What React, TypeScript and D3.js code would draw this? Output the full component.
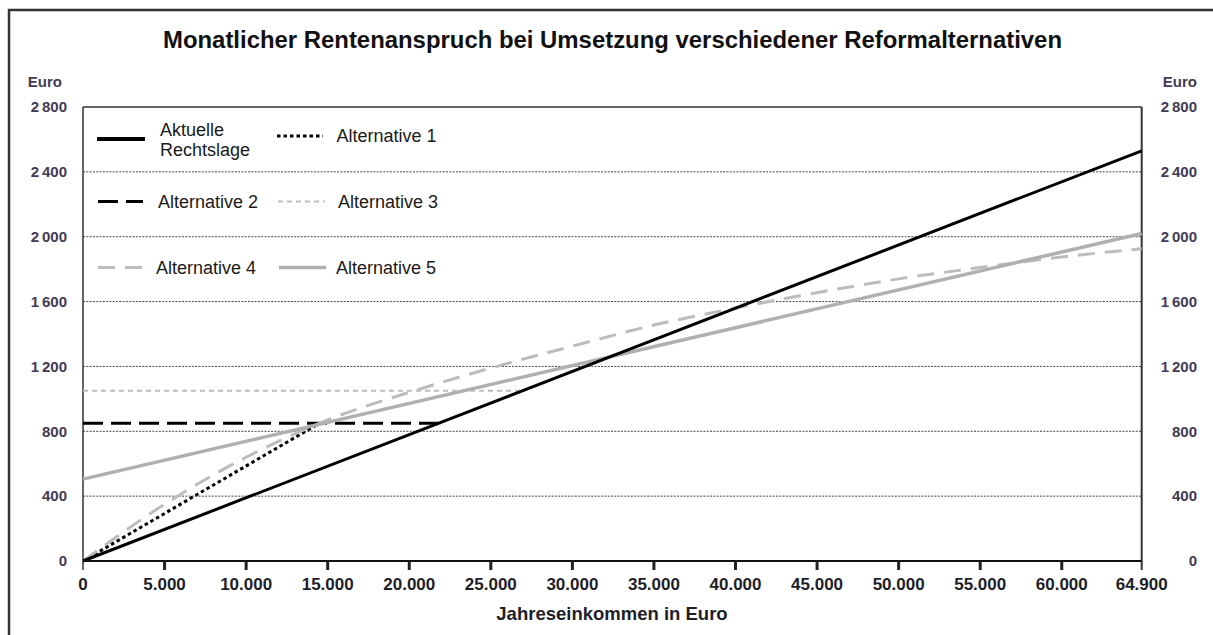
import React, { useEffect } from "react";
import * as d3 from "d3";

// ---- data ----
const xTicks = [0, 5000, 10000, 15000, 20000, 25000, 30000, 35000, 40000, 45000, 50000, 55000, 60000, 64900];
const yTicks = [0, 400, 800, 1200, 1600, 2000, 2400, 2800];
const gridValues = [400, 800, 1200, 1600, 2000, 2400];

const currentX = [0, 64900];
const currentY = [0, 2530];
const alt1X = [0, 14500];
const alt1Y = [0, 850];
const alt2X = [0, 21800];
const alt2Y = [850, 850];
const alt3X = [0, 26900];
const alt3Y = [1050, 1050];
const alt4X = [0, 5000, 10000, 15000, 20000, 25000, 30000, 35000, 40000, 45000, 50000, 55000, 60000, 64900];
const alt4Y = [0, 350, 640, 870, 1040, 1190, 1325, 1455, 1560, 1655, 1740, 1810, 1875, 1926];
const alt5X = [0, 64900];
const alt5Y = [505, 2020];

const seriesNames = ["Aktuelle Rechtslage", "Alternative 1", "Alternative 2", "Alternative 3", "Alternative 4", "Alternative 5"];

const W = 1213;
const H = 635;
const FONT = "'Liberation Sans', Arial, Helvetica, sans-serif";

const deFmt = d3.formatLocale({ decimal: ",", thousands: ".", grouping: [3], currency: ["", ""] }).format(",d");
const yFmt = d3.formatLocale({ decimal: ",", thousands: "\u2009", grouping: [3], currency: ["", ""] }).format(",d");

export default function App() {
  useEffect(() => {
    document.body.style.margin = "0";
  }, []);

  const x = d3.scaleLinear().domain([0, 64900]).range([83, 1141.7]);
  const y = d3.scaleLinear().domain([0, 2800]).range([561, 107]);
  const x0 = x(0), x1 = x(64900), yTop = y(2800), yBot = y(0);

  const mk = (xs: number[], ys: number[], curve = d3.curveLinear) =>
    d3.line<number>().x((_, i) => x(xs[i])).y((_, i) => y(ys[i])).curve(curve)(xs.map((_, i) => i)) || "";

  const styles = {
    current: { stroke: "#000", strokeWidth: 3, dash: undefined as string | undefined },
    alt1: { stroke: "#000", strokeWidth: 3, dash: "3.5 3" },
    alt2: { stroke: "#000", strokeWidth: 3, dash: "20 8" },
    alt3: { stroke: "#bdbdbd", strokeWidth: 2, dash: "5 4" },
    alt4: { stroke: "#bcbcbc", strokeWidth: 3, dash: "17 10" },
    alt5: { stroke: "#b0b0b0", strokeWidth: 3.5, dash: undefined as string | undefined },
  };

  const legend = [
    { s: styles.current, lx: 97, lx2: 145, ly: 139, tx: 160, lines: ["Aktuelle", "Rechtslage"], ty: 135.6, lw: 4 },
    { s: styles.alt1, lx: 277, lx2: 323, ly: 136, tx: 336.5, lines: [seriesNames[1]], ty: 142, lw: 3 },
    { s: styles.alt2, lx: 98, lx2: 143, ly: 201.5, tx: 158, lines: [seriesNames[2]], ty: 207.5, lw: 3 },
    { s: styles.alt3, lx: 278, lx2: 325, ly: 201.5, tx: 338, lines: [seriesNames[3]], ty: 207.5, lw: 2 },
    { s: styles.alt4, lx: 98, lx2: 143, ly: 267.5, tx: 156, lines: [seriesNames[4]], ty: 273.5, lw: 3 },
    { s: styles.alt5, lx: 279, lx2: 326, ly: 267.5, tx: 336, lines: [seriesNames[5]], ty: 273.5, lw: 3.5 },
  ];

  const path = (d: string, s: any) => (
    <path d={d} fill="none" stroke={s.stroke} strokeWidth={s.strokeWidth} strokeDasharray={s.dash} strokeLinejoin="round" />
  );

  return (
    <svg width={W} height={H} style={{ display: "block", background: "#fff" }} fontFamily={FONT}>
      <rect x={0} y={0} width={W} height={H} fill="#fff" />
      {/* outer frame (cut at right/bottom) */}
      <rect x={9} y={10} width={W + 20} height={H + 20} fill="none" stroke="#333" strokeWidth={2.5} />

      {/* title */}
      <text x={612.5} y={48} textAnchor="middle" fontSize={23} fontWeight="bold" fill="#111" textLength={899} lengthAdjust="spacingAndGlyphs">
        Monatlicher Rentenanspruch bei Umsetzung verschiedener Reformalternativen
      </text>

      {/* Euro labels */}
      <text x={62} y={86.5} textAnchor="end" fontSize={15} fontWeight="bold" fill="#433a55">Euro</text>
      <text x={1197} y={86.5} textAnchor="end" fontSize={15} fontWeight="bold" fill="#433a55">Euro</text>

      {/* grid */}
      {gridValues.map((v) => (
        <line key={v} x1={x0} x2={x1} y1={y(v)} y2={y(v)} stroke="#444" strokeWidth={1} strokeDasharray="2 1.3" />
      ))}

      {/* plot frame */}
      <line x1={x0} x2={x1} y1={yTop} y2={yTop} stroke="#333" strokeWidth={1.3} />
      <line x1={x0} x2={x0} y1={yTop} y2={yBot + 9} stroke="#333" strokeWidth={1.5} />
      <line x1={x1} x2={x1} y1={yTop} y2={yBot + 9} stroke="#333" strokeWidth={2} />

      {/* y tick labels */}
      {yTicks.map((v) => (
        <g key={v}>
          <text x={67} y={y(v)} dy="0.35em" textAnchor="end" fontSize={15} fontWeight="bold" fill="#433a55">{yFmt(v)}</text>
          <text x={1197} y={y(v)} dy="0.35em" textAnchor="end" fontSize={15} fontWeight="bold" fill="#433a55">{yFmt(v)}</text>
        </g>
      ))}

      {/* series */}
      {path(mk(alt3X, alt3Y), styles.alt3)}
      {path(mk(alt1X, alt1Y), styles.alt1)}
      {path(mk(alt2X, alt2Y), styles.alt2)}
      {path(mk(alt4X, alt4Y, d3.curveMonotoneX), styles.alt4)}
      {path(mk(alt5X, alt5Y), styles.alt5)}
      {path(mk(currentX, currentY), styles.current)}

      {/* x axis */}
      <line x1={x0} x2={x1} y1={yBot} y2={yBot} stroke="#111" strokeWidth={2.2} />
      {xTicks.map((v) => (
        <g key={v}>
          {v !== 0 && v !== 64900 && <line x1={x(v)} x2={x(v)} y1={yBot} y2={yBot + 9} stroke="#222" strokeWidth={3} />}
          <text x={x(v)} y={589.5} textAnchor="middle" fontSize={17} fontWeight="bold" fill="#1e1e28">{deFmt(v)}</text>
        </g>
      ))}
      <text x={612} y={620} textAnchor="middle" fontSize={18.5} fontWeight="bold" fill="#1e1e28">Jahreseinkommen in Euro</text>

      {/* legend */}
      {legend.map((l, i) => (
        <g key={i}>
          <line x1={l.lx} x2={l.lx2} y1={l.ly} y2={l.ly} stroke={l.s.stroke} strokeWidth={l.lw} strokeDasharray={l.s.dash} />
          {l.lines.map((t, j) => (
            <text key={j} x={l.tx} y={l.ty + j * 20} fontSize={18} fill="#1a1a1a">{t}</text>
          ))}
        </g>
      ))}
    </svg>
  );
}
